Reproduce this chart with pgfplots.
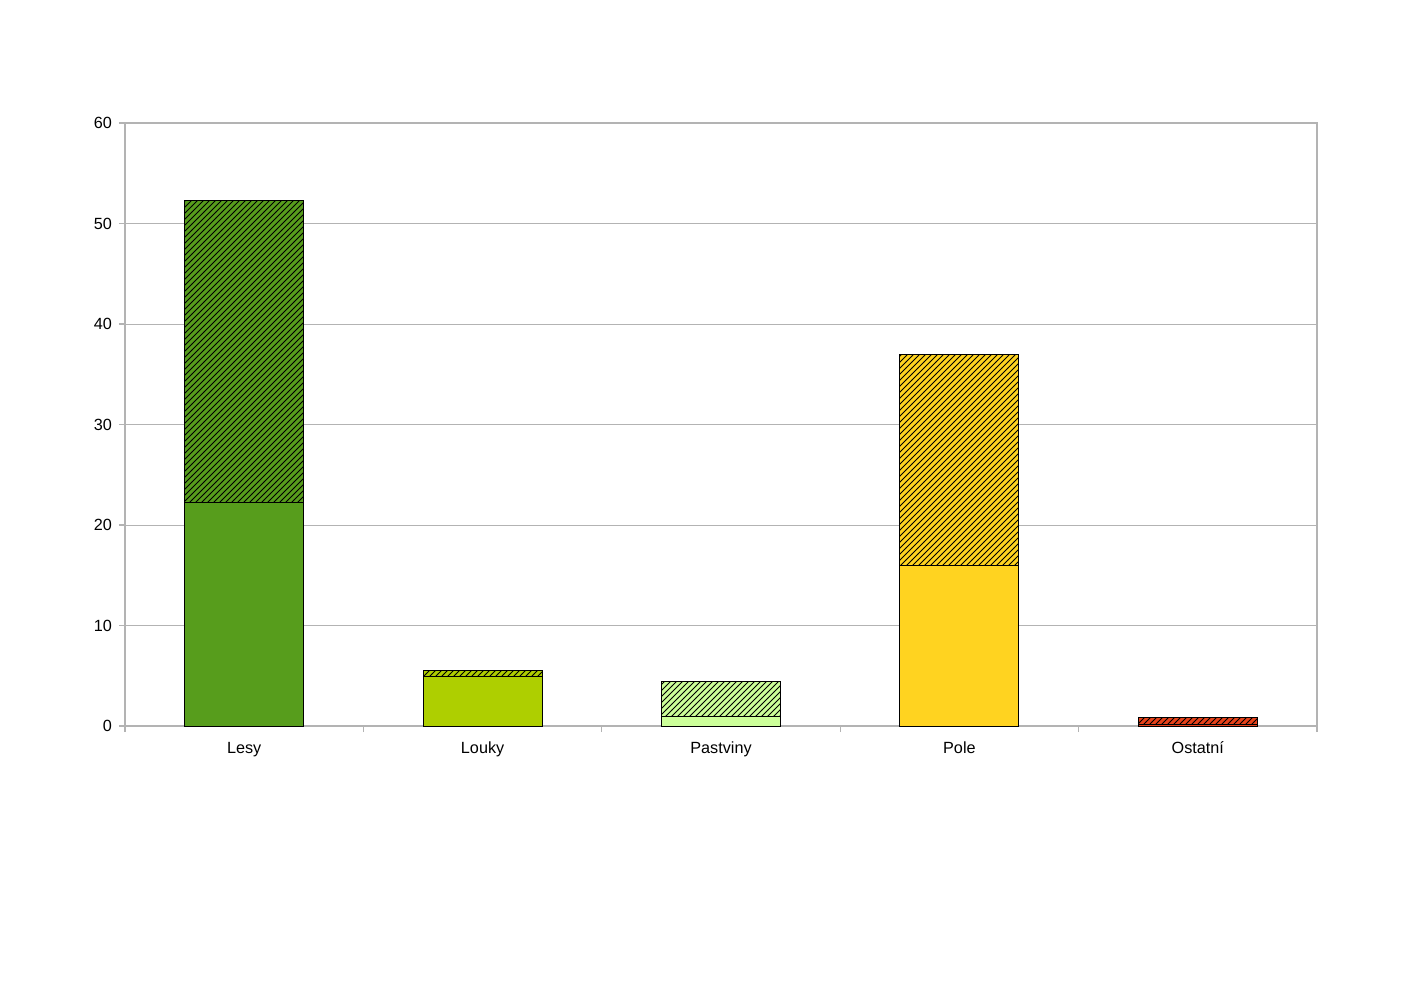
\documentclass[border=0pt]{standalone}
\usepackage{fontspec}
\setmainfont{Liberation Sans}
\usepackage{pgfplots}
\pgfplotsset{compat=1.18}
\usetikzlibrary{patterns}
\definecolor{cLesy}{HTML}{579D1C}
\definecolor{cLouky}{HTML}{AECF00}
\definecolor{cPast}{HTML}{CCFF99}
\definecolor{cPole}{HTML}{FFD320}
\definecolor{cOst}{HTML}{E8421A}
\definecolor{axgray}{HTML}{B3B3B3}
\begin{document}
\begin{tikzpicture}[x=1pt,y=1pt]
\path[use as bounding box] (0,0) rectangle (701.5,496);
\begin{axis}[
  at={(62.5pt,133pt)}, anchor=south west,
  width=596pt, height=301.5pt, scale only axis,
  ymin=0, ymax=60, xmin=-0.5, xmax=4.5,
  ytick={0,10,...,60},
  ymajorgrids, grid style={color=axgray, line width=0.5pt},
  axis line style={axgray, line width=0.6pt},
  xtick={0,1,2,3,4},
  xticklabels={Lesy,Louky,Pastviny,Pole,Ostatní},
  major x tick style={draw=none},
  minor xtick={-0.5,0.5,1.5,2.5,3.5,4.5},
  minor x tick style={axgray, line width=0.6pt},
  ytick style={axgray, line width=0.6pt},
  minor tick length=3pt, major tick length=3pt,
  tick align=outside, tick pos=left,
  ticklabel style={font=\fontsize{8.1}{9.5}\selectfont},
  x tick label style={text height=1.6ex, text depth=0.4ex, yshift=1pt},
  /pgf/number format/assume math mode=true,
  ybar,
  bar width=59.5pt,
  every axis plot/.append style={bar shift=0pt, line width=0.5pt, draw=black},
]
% Lesy: total, bottom
\addplot[fill=cLesy, postaction={pattern=north east lines}] coordinates {(0,52.3)};
\addplot[fill=cLesy] coordinates {(0,22.2)};
% Louky
\addplot[fill=cLouky, postaction={pattern=north east lines}] coordinates {(1,5.5)};
\addplot[fill=cLouky] coordinates {(1,4.9)};
% Pastviny
\addplot[fill=cPast, postaction={pattern=north east lines}] coordinates {(2,4.4)};
\addplot[fill=cPast] coordinates {(2,0.9)};
% Pole
\addplot[fill=cPole, postaction={pattern=north east lines}] coordinates {(3,37.0)};
\addplot[fill=cPole] coordinates {(3,16.0)};
% Ostatni
\addplot[fill=cOst, postaction={pattern=north east lines}] coordinates {(4,0.8)};
\addplot[fill=cOst] coordinates {(4,0.1)};
\end{axis}
\end{tikzpicture}
\end{document}
